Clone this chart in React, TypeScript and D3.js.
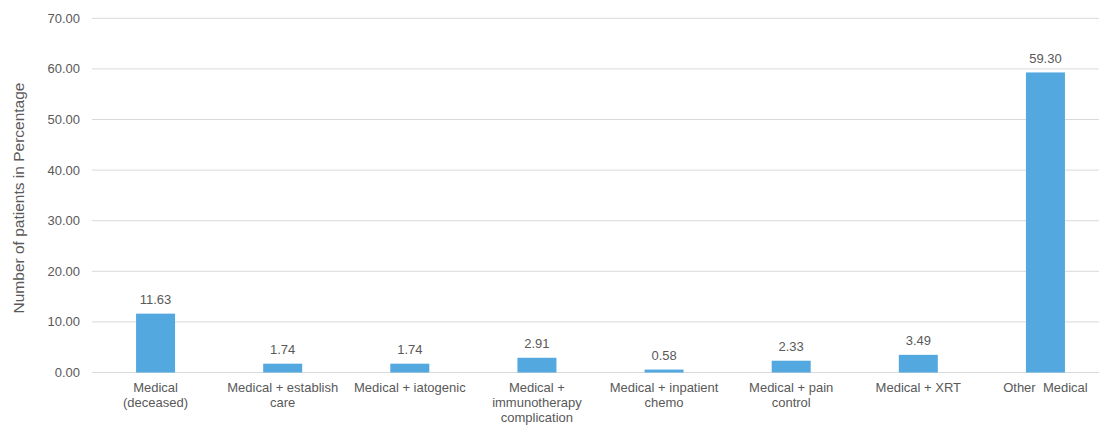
import React from "react";
import * as d3 from "d3";

const categories: string[] = [
  "Medical\n(deceased)",
  "Medical + establish\ncare",
  "Medical + iatogenic",
  "Medical +\nimmunotherapy\ncomplication",
  "Medical + inpatient\nchemo",
  "Medical + pain\ncontrol",
  "Medical + XRT",
  "Other  Medical",
];
const values: number[] = [11.63, 1.74, 1.74, 2.91, 0.58, 2.33, 3.49, 59.3];
const yTicks: number[] = [0, 10, 20, 30, 40, 50, 60, 70];
const yTitle = "Number of patients in Percentage";

const W = 1099;
const H = 427;
const FONT = "'Liberation Sans', Arial, sans-serif";
const TEXT = "#595959";
const BAR = "#53a8df";
const GRID = "#d9d9d9";

export default function App() {
  const x = d3
    .scaleBand<string>()
    .domain(categories)
    .range([92, 1109])
    .paddingInner(0)
    .paddingOuter(0);
  const y = d3.scaleLinear().domain([0, 70]).range([372.5, 18.3]);
  const barW = 39;

  return (
    <svg
      width={W}
      height={H}
      style={{ position: "absolute", left: 0, top: 0, background: "#fff" }}
      fontFamily={FONT}
    >
      {yTicks.map((t) => (
        <g key={t}>
          <line x1={92} x2={W} y1={y(t)} y2={y(t)} stroke={GRID} strokeWidth={1} />
          <text x={80} y={y(t)} dy="0.35em" textAnchor="end" fontSize={13} fill={TEXT}>
            {t.toFixed(2)}
          </text>
        </g>
      ))}
      <text
        transform="translate(19,198) rotate(-90)"
        textAnchor="middle"
        dy="0.35em"
        fontSize={15.5}
        fill={TEXT}
      >
        {yTitle}
      </text>
      {categories.map((c, i) => {
        const cx = (x(c) as number) + x.bandwidth() / 2;
        const v = values[i];
        return (
          <g key={c}>
            <rect x={cx - barW / 2} y={y(v)} width={barW} height={y(0) - y(v)} fill={BAR} />
            <text x={cx} y={y(v) - 9.5} textAnchor="middle" fontSize={13} fill={TEXT}>
              {v.toFixed(2)}
            </text>
            {c.split("\n").map((line, j) => (
              <text
                key={j}
                x={cx}
                y={392 + j * 15}
                textAnchor="middle"
                fontSize={13}
                fill={TEXT}
                style={{ whiteSpace: "pre" }}
              >
                {line}
              </text>
            ))}
          </g>
        );
      })}
    </svg>
  );
}
